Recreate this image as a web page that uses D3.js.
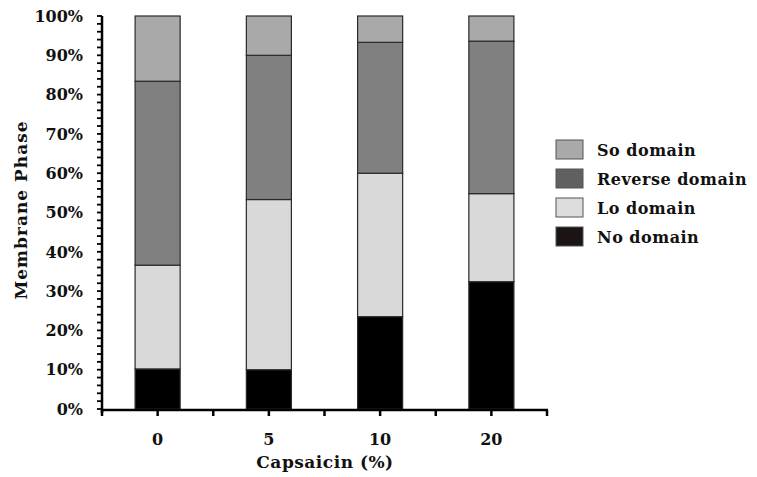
<!DOCTYPE html>
<html>
<head>
<meta charset="utf-8">
<script src="https://cdn.jsdelivr.net/npm/d3@7"></script>
<style>
body { margin: 0; background: #fff; }
text { font-family: "DejaVu Serif", serif; font-weight: bold; fill: #111; }
</style>
</head>
<body>
<div id="viz"></div>
<script>
var width = 757;
var height = 477;

var categories = ["0", "5", "10", "20"];
var noDomain = [10.2, 10.0, 23.5, 32.4];
var loDomain = [26.4, 43.3, 36.5, 22.4];
var reverseDomain = [46.8, 36.7, 33.3, 38.8];
var soDomain = [16.6, 10.0, 6.7, 6.4];
var seriesNames = ["No domain", "Lo domain", "Reverse domain", "So domain"];
var yTicks = [0, 10, 20, 30, 40, 50, 60, 70, 80, 90, 100];

var fills = ["#000000", "#d9d9d9", "#808080", "#a9a9a9"];
var legendFills = ["#1a1414", "#dcdcdc", "#606060", "#a9a9a9"];

var margin = {left: 102, right: 210, top: 16, bottom: 68};

var table = categories.map(function(c, i) {
	return {cat: c, "No domain": noDomain[i], "Lo domain": loDomain[i],
		"Reverse domain": reverseDomain[i], "So domain": soDomain[i]};
});

var stack = d3.stack().keys(seriesNames);
var layers = stack(table);

var x = d3.scaleBand()
	.domain(categories)
	.range([margin.left, width - margin.right])
	.padding(0);

var y = d3.scaleLinear()
	.domain([0, 100])
	.range([height - margin.bottom, margin.top]);

var barW = x.bandwidth() * 0.405;

var svg = d3.select("#viz").append("svg")
	.attr("width", width)
	.attr("height", height);

// bars
var groups = svg.selectAll(".layer")
	.data(layers)
	.enter().append("g")
	.attr("class", "layer")
	.style("fill", function(d, i) { return fills[i]; });

groups.selectAll("rect")
	.data(function(d) { return d; })
	.enter().append("rect")
	.attr("x", function(d) { return x(d.data.cat) + x.bandwidth()/2 - barW/2; })
	.attr("y", function(d) { return y(d[1]); })
	.attr("width", barW)
	.attr("height", function(d) { return y(d[0]) - y(d[1]); })
	.style("stroke", "#2a2a2a")
	.style("stroke-width", 1.2);

// y axis: minor ticks every 2%
var minor = d3.range(0, 101, 2);
svg.append("g")
	.selectAll("line")
	.data(minor)
	.enter().append("line")
	.attr("x1", margin.left - 5)
	.attr("x2", margin.left)
	.attr("y1", function(d) { return y(d); })
	.attr("y2", function(d) { return y(d); })
	.style("stroke", "#000")
	.style("stroke-width", 1.8);

svg.append("line")
	.attr("x1", margin.left)
	.attr("x2", margin.left)
	.attr("y1", y(0) + 4)
	.attr("y2", y(100))
	.style("stroke", "#000")
	.style("stroke-width", 2.5);

svg.append("g")
	.selectAll("text")
	.data(yTicks)
	.enter().append("text")
	.attr("x", margin.left - 19)
	.attr("y", function(d) { return y(d); })
	.attr("dy", "0.36em")
	.attr("text-anchor", "end")
	.style("font-size", "16px")
	.text(function(d) { return d + "%"; });

// x axis
var xTickPos = [];
categories.forEach(function(c, i) {
	xTickPos.push(x(c));
	xTickPos.push(x(c) + x.bandwidth()/2);
});
xTickPos.push(width - margin.right);

svg.append("line")
	.attr("x1", margin.left)
	.attr("x2", width - margin.right + 1)
	.attr("y1", y(0) + 1)
	.attr("y2", y(0) + 1)
	.style("stroke", "#000")
	.style("stroke-width", 2.5);

svg.append("g")
	.selectAll("line")
	.data(xTickPos)
	.enter().append("line")
	.attr("x1", function(d) { return d; })
	.attr("x2", function(d) { return d; })
	.attr("y1", y(0) + 1)
	.attr("y2", y(0) + 7)
	.style("stroke", "#000")
	.style("stroke-width", 2.5);

svg.append("g")
	.selectAll("text")
	.data(categories)
	.enter().append("text")
	.attr("x", function(d) { return x(d) + x.bandwidth()/2; })
	.attr("y", 445)
	.attr("text-anchor", "middle")
	.style("font-size", "16px")
	.text(function(d) { return d; });

svg.append("text")
	.attr("x", 325)
	.attr("y", 468)
	.attr("text-anchor", "middle")
	.style("font-size", "17px")
	.style("letter-spacing", "0.5px")
	.text("Capsaicin (%)");

svg.append("text")
	.attr("transform", "translate(27," + 210 + ") rotate(-90)")
	.attr("text-anchor", "middle")
	.style("font-size", "17px")
	.style("letter-spacing", "1px")
	.text("Membrane Phase");

// legend (top item first)
var legendOrder = [3, 2, 1, 0];
var legend = svg.selectAll(".legend")
	.data(legendOrder)
	.enter().append("g")
	.attr("class", "legend")
	.attr("transform", function(d, i) { return "translate(556," + (140 + i*29) + ")"; });

legend.append("rect")
	.attr("width", 27)
	.attr("height", 19)
	.style("fill", function(d) { return legendFills[d]; })
	.style("stroke", "#555")
	.style("stroke-width", 1);

legend.append("text")
	.attr("x", 41)
	.attr("y", 16)
	.style("font-size", "16px")
	.style("letter-spacing", "0.5px")
	.text(function(d) { return seriesNames[d]; });
</script>
</body>
</html>
